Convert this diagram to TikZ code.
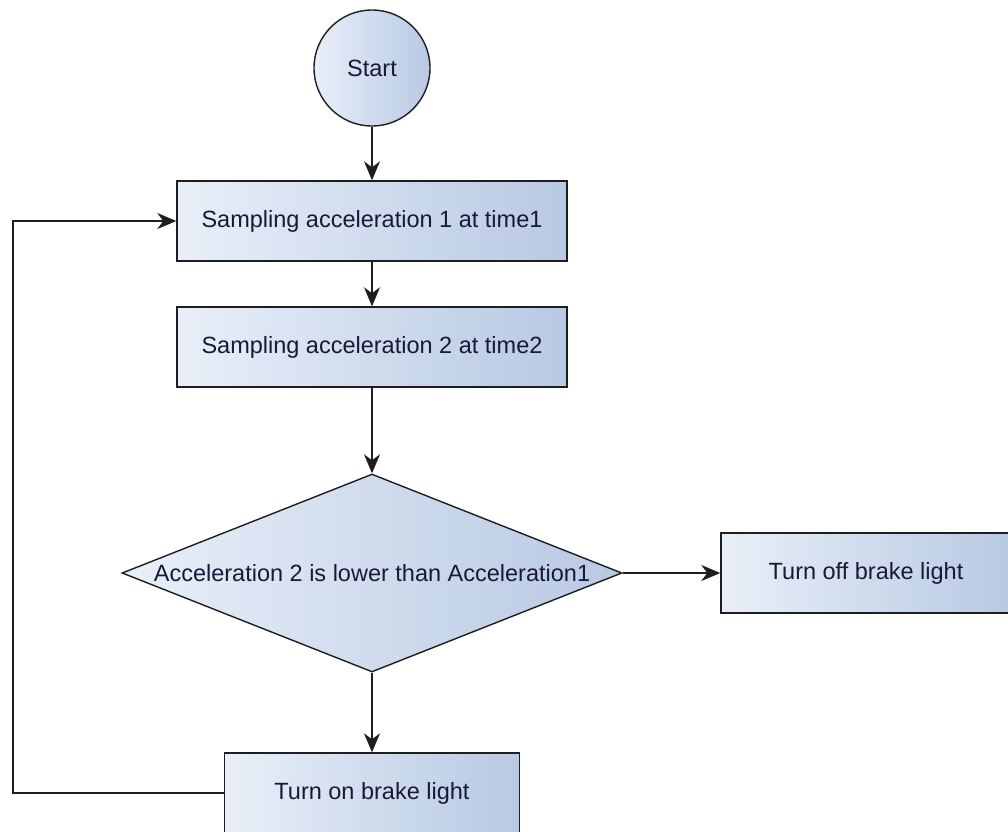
\documentclass[tikz,border=0pt]{standalone}
\usepackage{fontspec}
\setmainfont{Liberation Sans}
\usetikzlibrary{arrows.meta,shapes.geometric,positioning}
\definecolor{fillleft}{RGB}{232,239,248}
\definecolor{fillright}{RGB}{184,201,227}
\definecolor{flowtext}{RGB}{25,25,55}
\definecolor{flowline}{RGB}{30,30,30}
\tikzset{
  flow/.style={draw=flowline, line width=1.4pt,
    left color=fillleft, right color=fillright,
    text=flowtext, font=\fontsize{23.5}{28}\selectfont, inner sep=0pt},
  process/.style={flow, rectangle, minimum width=390pt, minimum height=80pt},
  terminal/.style={flow, circle, minimum size=116pt},
  decision/.style={flow, diamond, minimum width=500pt, minimum height=198pt},
  >={Stealth[length=19pt,width=16pt,inset=6pt]}
}

\begin{document}
\begin{tikzpicture}[->, line width=1.4pt, draw=flowline]

 % frame of the picture, as in the reference
 \useasboundingbox (0,0) rectangle (1008pt,-831pt);

 % Start
 \node[terminal] (Start) at (372pt,-68pt) {Start};

 % first sample
 \node[process,
  below of=Start,         % under the start circle
  node distance=153pt] (SampleOne)
  {Sampling acceleration 1 at time1};

 % second sample
 \node[process,
  below of=SampleOne,
  node distance=126pt] (SampleTwo)
  {Sampling acceleration 2 at time2};

 % the test
 \node[decision,
  below of=SampleTwo,
  node distance=226pt] (Compare)
  {\makebox[0pt]{Acceleration 2 is lower than Acceleration1}};

 % no: light off
 \node[process,
  right of=Compare,
  node distance=494pt,
  minimum width=290pt] (LightOff)
  {Turn off brake light};

 % yes: light on
 \node[process,
  below of=Compare,
  node distance=220pt,
  minimum width=295pt] (LightOn)
  {Turn on brake light};

 % corner of the loop back
 \coordinate[left of=SampleOne, node distance=359pt] (LoopLeft);

 % the paths
 \path (Start)     edge (SampleOne)
       (SampleOne) edge (SampleTwo)
       (SampleTwo) edge (Compare)
       (Compare)   edge (LightOff)
       (Compare)   edge (LightOn);
 \draw (LightOn.west) -| (LoopLeft) -- (SampleOne.west);

\end{tikzpicture}
\end{document}
